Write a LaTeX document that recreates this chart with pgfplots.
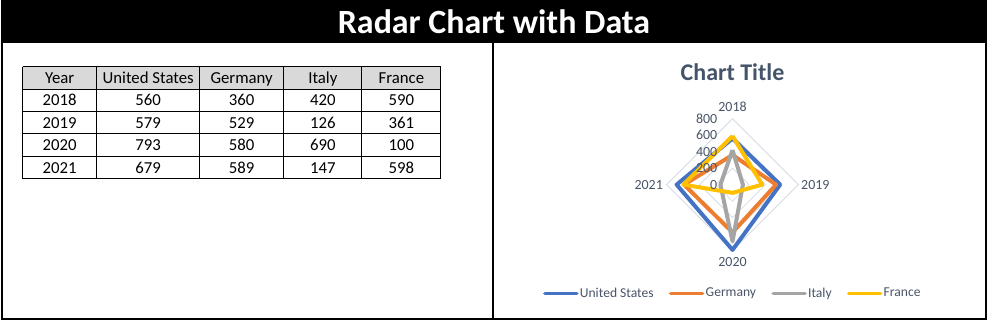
\documentclass[border=0pt]{standalone}
\usepackage{pgfplots}
\pgfplotsset{compat=1.18}
\usepackage{fontspec}
\setmainfont{Carlito}
\definecolor{cUS}{HTML}{4472C4}
\definecolor{cDE}{HTML}{ED7D31}
\definecolor{cIT}{HTML}{A5A5A5}
\definecolor{cFR}{HTML}{FFC000}
\definecolor{gridc}{HTML}{D6DCE5}
\definecolor{labc}{HTML}{4A5568}
\definecolor{titc}{HTML}{44546A}
\definecolor{headc}{HTML}{D9D9D9}
\begin{document}
\begin{tikzpicture}[x=0.75pt,y=0.75pt]
% background and frame
\fill[white] (0,0) rectangle (988,321);
\fill[black] (0,278) rectangle (988,321);
\node[white, font=\fontsize{25.5}{30}\selectfont\bfseries] at (494,299.5) {Radar Chart with Data};
\draw[black, line width=1.5pt] (1,1) -- (1,278) (987,1) -- (987,278) (0,1) -- (988,1);
\draw[black, line width=1.5pt] (493,1) -- (493,278);
% table
\fill[headc] (21.7,254.3) rectangle (440.7,231.7);
\foreach \x in {21.7,96,199,283.3,361.7,440.7} \draw[black, line width=0.75pt] (\x,254.3) -- (\x,141.7);
\foreach \y in {254.3,231.7,209.3,187,164.3,141.7} \draw[black, line width=0.75pt] (21.7,\y) -- (440.7,\y);
\begin{scope}[every node/.style={font=\fontsize{12.6}{14}\selectfont, text=black, anchor=base, inner sep=0pt}]
\node at (58.85,237.5) {Year};
\node at (147.5,237.5) {United States};
\node at (241.15,237.5) {Germany};
\node at (322.5,237.5) {Italy};
\node at (401.2,237.5) {France};
\node at (58.85,215) {2018};
\node at (147.5,215) {560};
\node at (241.15,215) {360};
\node at (322.5,215) {420};
\node at (401.2,215) {590};
\node at (58.85,192.7) {2019};
\node at (147.5,192.7) {579};
\node at (241.15,192.7) {529};
\node at (322.5,192.7) {126};
\node at (401.2,192.7) {361};
\node at (58.85,170.2) {2020};
\node at (147.5,170.2) {793};
\node at (241.15,170.2) {580};
\node at (322.5,170.2) {690};
\node at (401.2,170.2) {100};
\node at (58.85,147.6) {2021};
\node at (147.5,147.6) {679};
\node at (241.15,147.6) {589};
\node at (322.5,147.6) {147};
\node at (401.2,147.6) {598};
\end{scope}
% chart title
\node[text=titc, font=\fontsize{18}{21}\selectfont\bfseries] at (733,249) {Chart Title};
% category labels
\begin{scope}[every node/.style={text=labc, font=\fontsize{10.5}{12}\selectfont}]
\node at (733,214) {2018};
\node at (816,136) {2019};
\node at (733,58) {2020};
\node at (649,136) {2021};
\end{scope}
\begin{axis}[
  at={(549.75pt,102pt)}, anchor=center,
  scale only axis, width=123.75pt, height=123.75pt,
  xmin=-1000, xmax=1000, ymin=-1000, ymax=1000,
  hide axis, clip=false,
  legend columns=4,
  legend style={at={(0.5,-0.16)}, anchor=center, draw=none, fill=none,
    font=\fontsize{10.2}{12}\selectfont, text=labc,
    /tikz/every even column/.append style={column sep=10.5pt},
    nodes={inner xsep=1pt}},
  legend image code/.code={\draw[#1, line width=2.6pt, line cap=round] (0pt,0pt) -- (24pt,0pt);},
]
% grid
\addplot[gridc, line width=0.6pt, forget plot] coordinates {(0,800) (800,0) (0,-800) (-800,0) (0,800)};
\addplot[gridc, line width=0.6pt, forget plot] coordinates {(0,600) (600,0) (0,-600) (-600,0) (0,600)};
\addplot[gridc, line width=0.6pt, forget plot] coordinates {(0,400) (400,0) (0,-400) (-400,0) (0,400)};
\addplot[gridc, line width=0.6pt, forget plot] coordinates {(0,200) (200,0) (0,-200) (-200,0) (0,200)};
% series: 2018 top, 2019 right, 2020 bottom, 2021 left
\addplot[cUS, line width=3pt, line join=round] coordinates {(0,560) (579,0) (0,-793) (-679,0) (0,560)};
\addlegendentry{United States}
\addplot[cDE, line width=3pt, line join=round] coordinates {(0,360) (529,0) (0,-580) (-589,0) (0,360)};
\addlegendentry{Germany}
\addplot[cIT, line width=3pt, line join=round] coordinates {(0,420) (126,0) (0,-690) (-147,0) (0,420)};
\addlegendentry{Italy}
\addplot[cFR, line width=3pt, line join=round] coordinates {(0,590) (361,0) (0,-100) (-598,0) (0,590)};
\addlegendentry{France}
% radial axis labels
\begin{scope}[every node/.style={text=labc, font=\fontsize{10.5}{12}\selectfont, anchor=east, inner sep=0pt, xshift=-11.25pt}]
\node at (axis cs:0,800) {800};
\node at (axis cs:0,600) {600};
\node at (axis cs:0,400) {400};
\node at (axis cs:0,200) {200};
\node at (axis cs:0,0) {0};
\end{scope}
\end{axis}
\end{tikzpicture}
\end{document}
